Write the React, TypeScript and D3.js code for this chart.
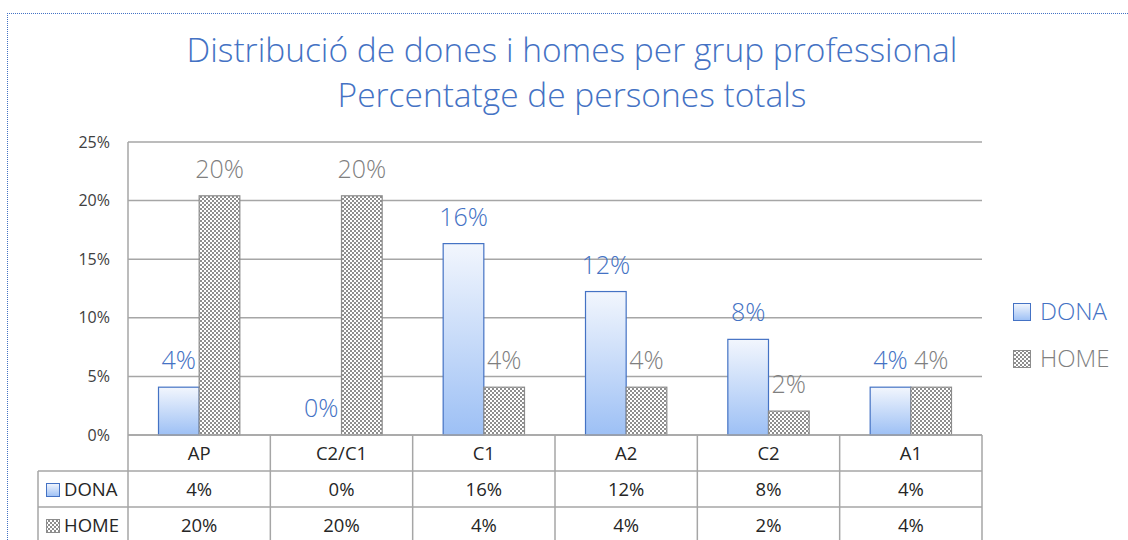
import * as d3 from "d3";

// chart data (percent of total staff)
const categories = ["AP", "C2/C1", "C1", "A2", "C2", "A1"];
const series = ["DONA", "HOME"];
const donaValues = [4.08, 0, 16.33, 12.24, 8.16, 4.08];
const homeValues = [20.41, 20.41, 4.08, 4.08, 2.04, 4.08];
const yTicks = [0, 5, 10, 15, 20, 25];
const titleLines = [
  "Distribució de dones i homes per grup professional",
  "Percentatge de persones totals",
];

const W = 1128;
const H = 540;
const left = 128;
const right = 982;
const top = 142;
const bottom = 435;

const BLUE = "#4472C4";
const GRAY = "#7F7F7F";
const LINE = "#A6A6A6";
const FONT = "'Open Sans', sans-serif";

export default function App() {
  const x = d3.scaleBand<string>().domain(categories).range([left, right]);
  const xSub = d3
    .scaleBand<string>()
    .domain(series)
    .range([0, x.bandwidth()])
    .paddingInner(0)
    .paddingOuter(0.75);
  const y = d3.scaleLinear().domain([0, 25]).range([bottom, top]);
  const fmt = (v: number) => `${Math.round(v)}%`;

  const valuesFor = (s: string) => (s === "DONA" ? donaValues : homeValues);
  const fillFor = (s: string) => (s === "DONA" ? "url(#donaGrad)" : "url(#homeCheck)");
  const strokeFor = (s: string) => (s === "DONA" ? BLUE : "#8C8C8C");
  const labelColor = (s: string) => (s === "DONA" ? BLUE : GRAY);

  const rowTop = [bottom, 471, 507];
  const rowH = [36, 36, 36];
  const tableBottom = 545;

  return (
    <svg
      width={W}
      height={H}
      style={{ position: "absolute", left: 0, top: 0, background: "#fff" }}
      fontFamily={FONT}
    >
      <defs>
        <linearGradient id="donaGrad" x1="0" y1="0" x2="0" y2="1">
          <stop offset="0" stopColor="#F2F6FD" />
          <stop offset="1" stopColor="#9DC0F5" />
        </linearGradient>
        <pattern id="homeCheck" width="4" height="4" patternUnits="userSpaceOnUse">
          <rect width="4" height="4" fill="#fff" />
          <rect width="2" height="2" fill="#8E8E8E" />
          <rect x="2" y="2" width="2" height="2" fill="#8E8E8E" />
        </pattern>
      </defs>

      {/* dotted chart-area border */}
      <g stroke={BLUE} strokeDasharray="1 1" shapeRendering="crispEdges">
        <line x1={7} x2={W} y1={13.5} y2={13.5} />
        <line x1={7.5} x2={7.5} y1={13} y2={H} />
      </g>

      {/* title */}
      {titleLines.map((t, i) => (
        <text
          key={t}
          x={572}
          y={62 + i * 45}
          textAnchor="middle"
          fontSize={33.5}
          fontWeight={300}
          fill={BLUE}
        >
          {t}
        </text>
      ))}

      {/* gridlines & y ticks */}
      {yTicks.map((t) => (
        <g key={t}>
          <line x1={left} x2={right} y1={y(t)} y2={y(t)} stroke={LINE} strokeWidth={1.5} />
          <text
            x={110}
            y={y(t) + 5.5}
            textAnchor="end"
            fontSize={16}
            fill="#404040"
          >
            {t}%
          </text>
        </g>
      ))}
      <line x1={left} x2={left} y1={top} y2={tableBottom} stroke={LINE} strokeWidth={1.5} />

      {/* bars */}
      {series.map((s) =>
        categories.map((c, i) => {
          const v = valuesFor(s)[i];
          const bx = (x(c) ?? 0) + (xSub(s) ?? 0);
          return (
            <g key={s + c}>
              {v > 0 && (
                <rect
                  x={bx}
                  y={y(v)}
                  width={xSub.bandwidth()}
                  height={bottom - y(v)}
                  fill={fillFor(s)}
                  stroke={strokeFor(s)}
                  strokeWidth={1.2}
                />
              )}
              <text
                x={bx + xSub.bandwidth() / 2}
                y={y(v) - 18}
                textAnchor="middle"
                fontSize={25}
                fontWeight={300}
                fill={labelColor(s)}
              >
                {fmt(v)}
              </text>
            </g>
          );
        })
      )}

      {/* data table */}
      <line x1={left} x2={right} y1={bottom} y2={bottom} stroke={LINE} strokeWidth={1.5} />
      {[rowTop[1], rowTop[2]].map((ry) => (
        <line key={ry} x1={38} x2={right} y1={ry} y2={ry} stroke={LINE} strokeWidth={1.5} />
      ))}
      <line x1={38} x2={38} y1={rowTop[1]} y2={tableBottom} stroke={LINE} strokeWidth={1.5} />
      {categories.map((c) => (
        <line
          key={"v" + c}
          x1={(x(c) ?? 0) + x.bandwidth()}
          x2={(x(c) ?? 0) + x.bandwidth()}
          y1={bottom}
          y2={tableBottom}
          stroke={LINE}
          strokeWidth={1.5}
        />
      ))}
      {categories.map((c, i) => (
        <g key={"t" + c} fontSize={18.5} fill="#262626" textAnchor="middle">
          <text x={(x(c) ?? 0) + x.bandwidth() / 2} y={rowTop[0] + rowH[0] / 2 + 6.5}>
            {c}
          </text>
          <text x={(x(c) ?? 0) + x.bandwidth() / 2} y={rowTop[1] + rowH[1] / 2 + 6.5}>
            {fmt(donaValues[i])}
          </text>
          <text x={(x(c) ?? 0) + x.bandwidth() / 2} y={rowTop[2] + rowH[2] / 2 + 6.5}>
            {fmt(homeValues[i])}
          </text>
        </g>
      ))}
      {series.map((s, i) => (
        <g key={"row" + s}>
          <rect
            x={46.5}
            y={rowTop[i + 1] + 12.5}
            width={13}
            height={13}
            fill={fillFor(s)}
            stroke={strokeFor(s)}
          />
          <text x={64} y={rowTop[i + 1] + rowH[i + 1] / 2 + 6.5} fontSize={18.5} fill="#262626">
            {s}
          </text>
        </g>
      ))}

      {/* legend */}
      {series.map((s, i) => (
        <g key={"leg" + s}>
          <rect
            x={1013.5}
            y={303.5 + i * 47}
            width={17}
            height={17}
            fill={fillFor(s)}
            stroke={strokeFor(s)}
          />
          <text
            x={1040}
            y={320 + i * 47}
            fontSize={24}
            fontWeight={300}
            fill={labelColor(s)}
          >
            {s}
          </text>
        </g>
      ))}
    </svg>
  );
}
